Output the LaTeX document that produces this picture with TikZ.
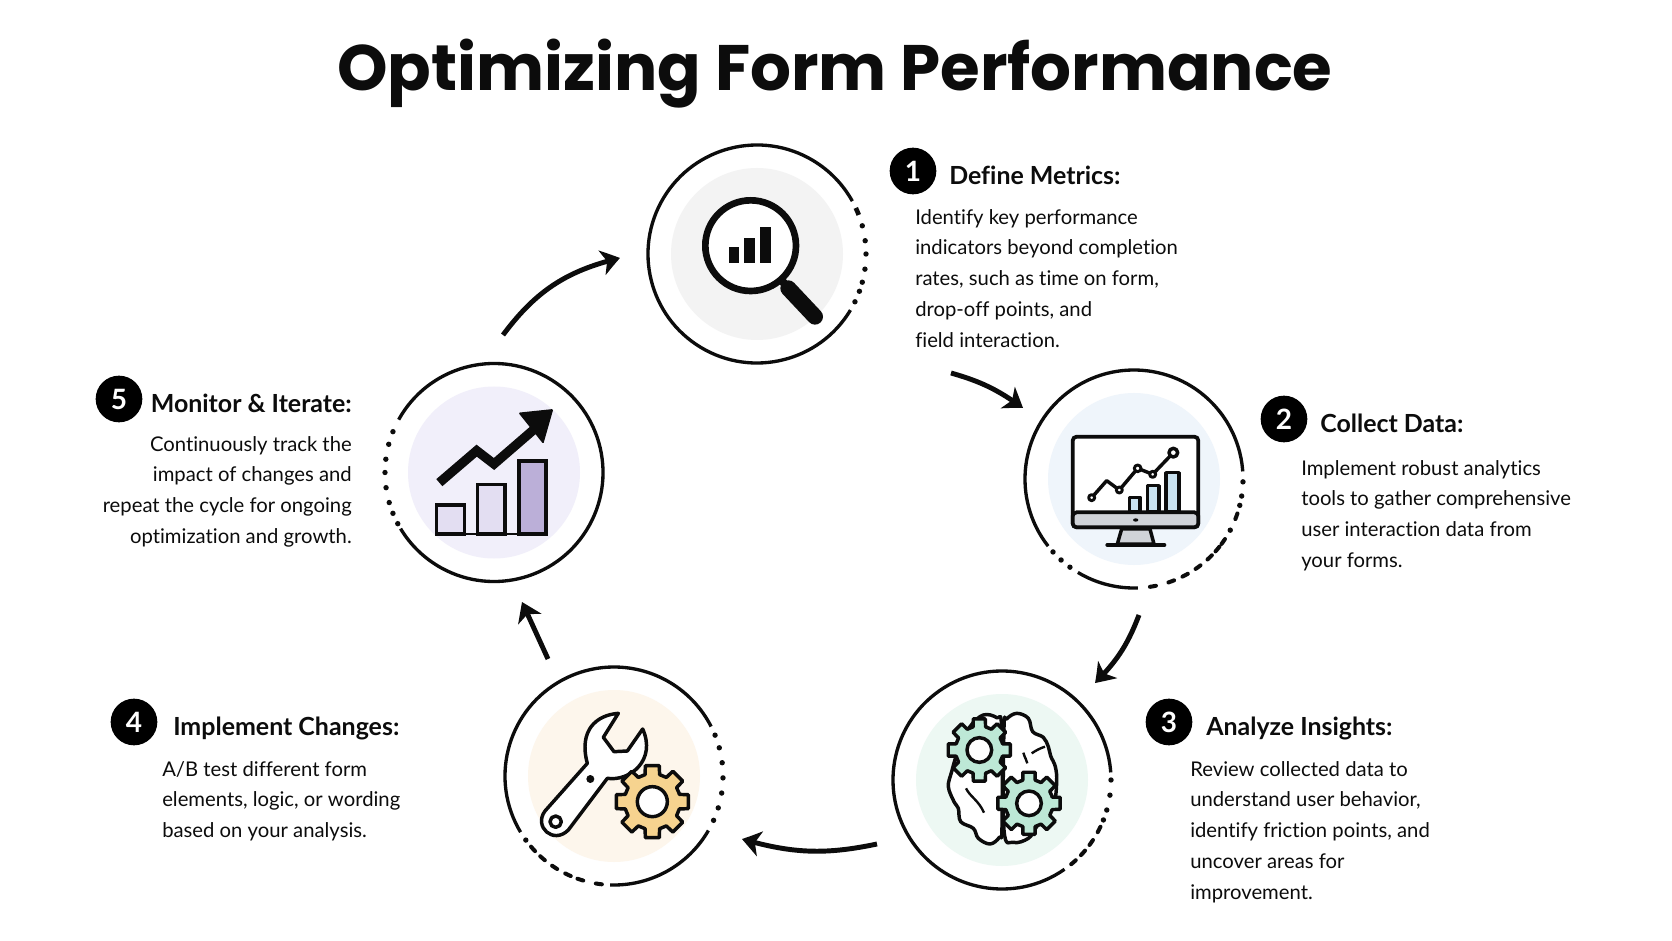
\documentclass[tikz,border=0pt]{standalone}
\usepackage{fontspec}
\setmainfont{Lato}[Ligatures=NoCommon]
\newfontfamily\titlefont{Poppins}
\usetikzlibrary{arrows.meta,bending}
\definecolor{ink}{HTML}{0C0C0C}
\definecolor{halogray}{HTML}{F3F3F3}
\definecolor{haloblue}{HTML}{EFF5FB}
\definecolor{halogreen}{HTML}{EDF8F3}
\definecolor{halosand}{HTML}{FDF6EC}
\definecolor{halolilac}{HTML}{F1EFFA}
\definecolor{barblue}{HTML}{C9E2F0}
\definecolor{chin}{HTML}{D0D3D8}
\definecolor{gearmint}{HTML}{BDE8D6}
\definecolor{gearsand}{HTML}{F6D38F}
\definecolor{barlilac}{HTML}{E3DEF2}
\definecolor{barviolet}{HTML}{BBAFD8}
\tikzset{
 x=0.75pt,y=-0.75pt,
 halo/.style={circle,inner sep=0pt,minimum size=129pt,draw=none},
 ringline/.style={ink,line width=2.5pt},
 badge/.style={circle,fill=black,inner sep=0pt,minimum size=35pt,text=white,font=\fontsize{21}{21}\selectfont\bfseries},
 head/.style={inner sep=0pt,text=ink,font=\fontsize{18.7}{20}\selectfont\bfseries},
 body/.style={inner sep=0pt,text=ink,font=\fontsize{15.2}{23.1}\selectfont},
 flow/.style={ink,line width=3.7pt,-{Stealth[length=14pt,width=19pt,inset=4pt,bend]}},
 ic/.style={ink,line width=2.6pt,line join=round},
}
\newcommand{\ringarc}[3]{\draw[ringline] (#1)++(#2:109) arc[start angle=#2,end angle=#3,radius=109];}
\newcommand{\ringdots}[2]{\foreach \a in {#2}{\fill[ink] (#1)++(\a:109) circle (2.7);}}
\newcommand{\ringdash}[2]{\foreach \a in {#2}{\draw[ink,line width=3pt,line cap=round] (#1)++(\a-1.6:109) arc[start angle=\a-1.6,end angle=\a+1.6,radius=109];}}
% gear: centre x, y, outer, root, hole, fill
\newcommand{\gearshape}[6]{%
 \draw[ic,fill=#6] (#1+#4*0.94,#2-#4*0.34)
  \foreach \i [evaluate=\i as \t using \i*45] in {0,...,7}{
   -- ([shift={(\t-15:#4)}]#1,#2) -- ([shift={(\t-11:#3)}]#1,#2) -- ([shift={(\t+11:#3)}]#1,#2) -- ([shift={(\t+15:#4)}]#1,#2)
  } -- cycle;
 \draw[ic,fill=white] (#1,#2) circle (#5);}
\begin{document}
\begin{tikzpicture}
\useasboundingbox (0,0) rectangle (1672,941);
\fill[white] (0,0) rectangle (1672,941);
\node[inner sep=0pt,text=ink,font=\fontsize{48.2}{60}\selectfont\titlefont\bfseries] (title) at (835,74) {Optimizing Form Performance};

% halos and centres
\node[halo,fill=halogray] (c1) at (757,254) {};
\node[halo,fill=haloblue] (c2) at (1134,479) {};
\node[halo,fill=halogreen] (c3) at (1002,780) {};
\node[halo,fill=halosand] (c4) at (614,776) {};
\node[halo,fill=halolilac] (c5) at (494,472.5) {};

% rings
\ringarc{c1}{31}{331}
\ringdots{c1}{-15,-7,0,8,15,20,26}
\draw[ink,line width=3.5pt] (c1)++(-25:109) arc[start angle=-25,end angle=-21,radius=109];
\ringarc{c2}{142}{356}
\ringarc{c2}{88}{121}
\ringdots{c2}{1.5,9,14,28,126,132,138}
\ringdash{c2}{20,35,40,46,54,62,70,80}
\ringarc{c3}{55}{356}
\ringdots{c3}{0,8,16,21.5}
\ringdash{c3}{27,35,42,49}
\ringarc{c4}{149}{333}
\ringarc{c4}{30}{92}
\ringdots{c4}{-22,-15,-7,1,9,17,24,144}
\ringdash{c4}{98,108,115,123,131,138}
\ringarc{c5}{209}{509}
\ringdots{c5}{152,158,164,172,180,187,195,202}

% icon 1: magnifier
\begin{scope}[shift={(620,120)},scale=1/3]
 \draw[ink,line width=12pt,line cap=round] (505,505) -- (585,590);
 \draw[ink,line width=6pt] (475,470) -- (510,510);
 \draw[ink,line width=5pt,fill=white] (392,377) circle (136);
 \fill[ink] (326,380) rectangle (357,430);
 \fill[ink] (373,353) rectangle (405,430);
 \fill[ink] (420,320) rectangle (452,430);
\end{scope}

% icon 2: monitor
\begin{scope}[shift={(1010,350)},scale=1/3]
 \draw[ic,fill=chin] (335,537) -- (420,537) -- (432,582) -- (322,582) -- cycle;
 \draw[ink,line width=3pt,line cap=round] (292,585) -- (463,585);
 \draw[ink,line width=2.8pt,fill=white,rounded corners=3pt] (188,260) rectangle (565,532);
 \draw[ink,line width=2.8pt,fill=chin,rounded corners=3pt] (188,487) rectangle (565,532);
 \fill[ink] (377,510) ellipse (8 and 5);
 \draw[ic,fill=barblue] (358,442) rectangle (390,485);
 \draw[ic,fill=barblue] (412,407) rectangle (447,485);
 \draw[ic,fill=barblue] (468,368) rectangle (507,485);
 \draw[ic] (245,443) -- (290,392) -- (328,420) -- (383,355) -- (428,373) -- (490,308);
 \draw[ic,fill=white,line width=2.2pt] (245,443) circle (9);
 \draw[ic,fill=white,line width=2.2pt] (328,420) circle (9);
 \draw[ic,fill=white,line width=2.2pt] (383,355) circle (10);
 \draw[ic,fill=white,line width=2.2pt] (428,373) circle (9);
 \draw[ic,fill=white,line width=2.6pt] (490,308) circle (13);
\end{scope}

% icon 3: brain and gears
\begin{scope}[shift={(880,650)},scale=1/3]
 \draw[ic,fill=white] plot[smooth cycle,tension=.6] coordinates {(365,232)(350,203)(310,195)(270,230)(235,300)(215,365)(205,410)(222,455)(235,475)(242,515)(280,535)(295,565)(330,582)(358,562)(366,530)};
 \draw[ic,fill=white] plot[smooth cycle,tension=.6] coordinates {(372,232)(380,207)(410,190)(445,205)(458,245)(490,262)(505,290)(512,318)(526,350)(530,395)(520,460)(470,530)(445,565)(400,577)(372,540)};
 \draw[ink,line width=1.8pt] (258,415) .. controls (270,440) and (295,450) .. (312,488);
 \draw[ink,line width=1.8pt] (430,308) .. controls (435,325) and (440,330) .. (442,340);
 \draw[ink,line width=1.8pt] (455,310) .. controls (470,300) and (480,295) .. (495,290);
 \gearshape{298}{300}{95}{72}{37}{gearmint}
 \gearshape{447}{460}{95}{72}{37}{gearmint}
\end{scope}

% icon 4: wrench and gear
\begin{scope}[shift={(490,650)},scale=1/3]
 \draw[ic,fill=white] (385,190) .. controls (320,195) and (265,240) .. (292,340) -- (165,483) .. controls (130,530) and (190,585) .. (235,540) -- (352,385) .. controls (420,395) and (500,330) .. (458,237) -- (412,303) -- (372,305) -- (340,262) -- cycle;
 \draw[ic] (197,515) circle (17);
 \fill[ink] (301,387) circle (12);
 \gearshape{487}{455}{110}{84}{45}{gearsand}
\end{scope}

% icon 5: growth chart
\begin{scope}[shift={(370,350)},scale=1/3]
 \draw[ink,line width=1pt] (197,552) -- (535,552);
 \draw[ink,line width=2.6pt,fill=barlilac] (200,465) rectangle (283,552);
 \draw[ink,line width=2.6pt,fill=barlilac] (323,403) rectangle (405,552);
 \draw[ink,line width=2.6pt,fill=barviolet] (447,333) rectangle (528,552);
 \draw[ink,line width=7pt,line join=miter] (208,398) -- (320,302) -- (372,342) -- (490,240);
 \fill[ink,rounded corners=1pt] (550,177) -- (445,188) -- (520,282) -- cycle;
\end{scope}

% connectors
\coordinate (a1s) at (951,373); \coordinate (a1e) at (1023,408);
\coordinate (a2s) at (1139,615); \coordinate (a2e) at (1095,683);
\coordinate (a3s) at (877,844); \coordinate (a3e) at (742,839);
\coordinate (a4s) at (548,659); \coordinate (a4e) at (522,602);
\coordinate (a5s) at (503,335); \coordinate (a5e) at (620,258);
\draw[flow] (a1s) to[bend left=10] (a1e);
\draw[flow] (a2s) to[bend left=12] (a2e);
\draw[flow] (a3s) to[bend left=14] (a3e);
\draw[flow] (a4s) to (a4e);
\draw[flow] (a5s) to[bend left=20] (a5e);

% badges
\node[badge] (b1) at (913,171) {1};
\node[badge] (b2) at (1284,419) {2};
\node[badge] (b3) at (1169,722) {3};
\node[badge] (b4) at (134,722) {4};
\node[badge] (b5) at (119,399) {5};

% headings
\node[head,anchor=base west] (h1) at (949,184.5) {Define Metrics:};
\node[head,anchor=base west] (h2) at (1320,432) {Collect Data:};
\node[head,anchor=base west] (h3) at (1206,735) {Analyze Insights:};
\node[head,anchor=base west] (h4) at (173,735) {Implement Changes:};
\node[head,anchor=base east] (h5) at (352,412) {Monitor \& Iterate:};

% body text
\node[body,anchor=north west,align=left] (t1) at (915,209) {Identify key performance\\indicators beyond completion\\rates, such as time on form,\\drop-off points, and\\field interaction.};
\node[body,anchor=north west,align=left] (t2) at (1301,460) {Implement robust analytics\\tools to gather comprehensive\\user interaction data from\\your forms.};
\node[body,anchor=north west,align=left] (t3) at (1190,761) {Review collected data to\\understand user behavior,\\identify friction points, and\\uncover areas for\\improvement.};
\node[body,anchor=north west,align=left] (t4) at (162,761) {A/B test different form\\elements, logic, or wording\\based on your analysis.};
\node[body,anchor=north east,align=right] (t5) at (352,436) {Continuously track the\\impact of changes and\\repeat the cycle for ongoing\\optimization and growth.};
\end{tikzpicture}
\end{document}
